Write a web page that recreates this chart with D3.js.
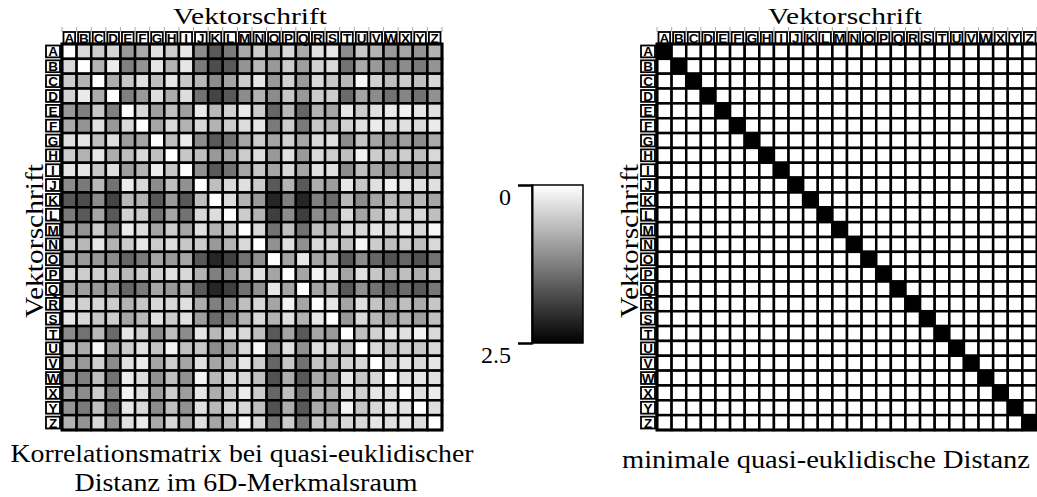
<!DOCTYPE html>
<html>
<head>
<meta charset="utf-8">
<script src="https://cdn.jsdelivr.net/npm/d3@7/dist/d3.min.js"></script>
<style>
  html, body { margin: 0; padding: 0; background: #fff; }
  svg { display: block; }
</style>
</head>
<body>
<svg id="chart" width="1037" height="497"></svg>
<script>
// ---------------- data ----------------
const letters = ["A","B","C","D","E","F","G","H","I","J","K","L","M","N","O","P","Q","R","S","T","U","V","W","X","Y","Z"];

// quasi-euclidean distance between letters (rows x columns)
const distance = [
  [0,0.38,0.5,0.43,1,0.83,0.3,0.5,0.25,1.13,1.63,1.3,0.83,0.5,0.83,0.38,0.83,0.3,0.25,1.13,0.55,0.75,1,0.88,1.05,0.75],
  [0.38,0,0.75,0.2,1.25,1.05,0.25,0.75,0.25,1.3,1.75,1.63,1.05,0.7,1,0.5,0.95,0.45,0.38,1.38,0.83,1,1.25,1.13,1.3,1.05],
  [0.5,0.75,0,0.8,0.55,0.3,0.63,0.25,0.55,0.7,1.13,0.88,0.5,0.25,1,0.45,1,0.38,0.55,0.7,0.08,0.45,0.63,0.5,0.63,0.38],
  [0.43,0.2,0.8,0,1.25,1,0.33,0.8,0.33,1.38,1.83,1.63,1.13,0.75,1.13,0.55,1,0.5,0.5,1.45,0.88,1.13,1.38,1.2,1.38,1.08],
  [1,1.25,0.55,1.25,0,0.38,0.95,0.63,0.95,0.2,0.7,0.45,0.2,0.5,1.5,0.7,1.5,0.75,0.88,0.25,0.5,0.3,0.2,0.13,0.25,0.3],
  [0.83,1.05,0.3,1,0.38,0,0.88,0.38,0.75,0.38,0.75,0.5,0.33,0.25,1.3,0.5,1.3,0.55,0.7,0.45,0.3,0.2,0.33,0.3,0.38,0.2],
  [0.3,0.25,0.63,0.33,0.95,0.88,0,0.63,0.2,1.13,1.63,1.38,0.88,0.5,0.88,0.45,0.88,0.38,0.3,1.13,0.58,0.88,1.08,0.95,1.13,0.83],
  [0.5,0.75,0.25,0.8,0.63,0.38,0.63,0,0.55,0.63,1,0.88,0.5,0.33,1,0.3,1,0.38,0.5,0.63,0.13,0.5,0.63,0.5,0.63,0.38],
  [0.25,0.25,0.55,0.33,0.95,0.75,0.2,0.55,0,1.08,1.63,1.38,0.88,0.55,0.88,0.38,0.88,0.3,0.3,1.13,0.63,0.88,1.08,0.95,1.08,0.83],
  [1.13,1.3,0.7,1.38,0.2,0.38,1.13,0.63,1.08,0,0.63,0.38,0.3,0.5,1.63,0.75,1.63,0.8,0.95,0.25,0.55,0.3,0.13,0.25,0.3,0.3],
  [1.63,1.75,1.13,1.83,0.7,0.75,1.63,1,1.63,0.63,0,0.33,0.75,1,2.13,1.25,2.13,1.25,1.45,0.7,1.13,0.88,0.7,0.8,0.7,0.88],
  [1.3,1.63,0.88,1.63,0.45,0.5,1.38,0.88,1.38,0.38,0.33,0,0.5,0.75,1.88,1.13,1.88,1.13,1.25,0.38,0.88,0.63,0.38,0.5,0.38,0.63],
  [0.83,1.05,0.5,1.13,0.2,0.33,0.88,0.5,0.88,0.3,0.75,0.5,0,0.38,1.38,0.63,1.38,0.63,0.75,0.38,0.38,0.25,0.38,0.2,0.38,0.08],
  [0.5,0.7,0.25,0.75,0.5,0.25,0.5,0.33,0.55,0.5,1,0.75,0.38,0,1.08,0.3,1.08,0.38,0.38,0.63,0.08,0.5,0.63,0.5,0.63,0.38],
  [0.83,1,1,1.13,1.5,1.3,0.88,1,0.88,1.63,2.13,1.88,1.38,1.08,0,0.88,0.25,0.88,0.75,1.63,1.13,1.5,1.7,1.5,1.7,1.38],
  [0.38,0.5,0.45,0.55,0.7,0.5,0.45,0.3,0.38,0.75,1.25,1.13,0.63,0.3,0.88,0,0.88,0.13,0.3,0.88,0.3,0.55,0.8,0.63,0.8,0.5],
  [0.83,0.95,1,1,1.5,1.3,0.88,1,0.88,1.63,2.13,1.88,1.38,1.08,0.25,0.88,0,0.88,0.75,1.63,1.08,1.38,1.63,1.45,1.63,1.33],
  [0.3,0.45,0.38,0.5,0.75,0.55,0.38,0.38,0.3,0.8,1.25,1.13,0.63,0.38,0.88,0.13,0.88,0,0.25,0.88,0.3,0.58,0.83,0.63,0.83,0.55],
  [0.25,0.38,0.55,0.5,0.88,0.7,0.3,0.5,0.3,0.95,1.45,1.25,0.75,0.38,0.75,0.3,0.75,0.25,0,1,0.38,0.7,0.95,0.75,0.95,0.63],
  [1.13,1.38,0.7,1.45,0.25,0.45,1.13,0.63,1.13,0.25,0.7,0.38,0.38,0.63,1.63,0.88,1.63,0.88,1,0,0.63,0.45,0.25,0.3,0.13,0.38],
  [0.55,0.83,0.08,0.88,0.5,0.3,0.58,0.13,0.63,0.55,1.13,0.88,0.38,0.08,1.13,0.3,1.08,0.3,0.38,0.63,0,0.38,0.55,0.45,0.55,0.38],
  [0.75,1,0.45,1.13,0.3,0.2,0.88,0.5,0.88,0.3,0.88,0.63,0.25,0.5,1.5,0.55,1.38,0.58,0.7,0.45,0.38,0,0.38,0.25,0.38,0.25],
  [1,1.25,0.63,1.38,0.2,0.33,1.08,0.63,1.08,0.13,0.7,0.38,0.38,0.63,1.7,0.8,1.63,0.83,0.95,0.25,0.55,0.38,0,0.3,0.25,0.3],
  [0.88,1.13,0.5,1.2,0.13,0.3,0.95,0.5,0.95,0.25,0.8,0.5,0.2,0.5,1.5,0.63,1.45,0.63,0.75,0.3,0.45,0.25,0.3,0,0.3,0.2],
  [1.05,1.3,0.63,1.38,0.25,0.38,1.13,0.63,1.08,0.3,0.7,0.38,0.38,0.63,1.7,0.8,1.63,0.83,0.95,0.13,0.55,0.38,0.25,0.3,0,0.33],
  [0.75,1.05,0.38,1.08,0.3,0.2,0.83,0.38,0.83,0.3,0.88,0.63,0.08,0.38,1.38,0.5,1.33,0.55,0.63,0.38,0.38,0.25,0.3,0.2,0.33,0]
];

// letter with minimal distance for each row letter
const minMatch = ["A","B","C","D","E","F","G","H","I","J","K","L","M","N","O","P","Q","R","S","T","U","V","W","X","Y","Z"];

const colorDomain = [0, 2.5];
const colorbarTicks = [0, 2.5];

const axisTitle = "Vektorschrift";
const captionLeft = ["Korrelationsmatrix bei quasi-euklidischer", "Distanz im 6D-Merkmalsraum"];
const captionRight = "minimale quasi-euklidische Distanz";

// ---------------- drawing ----------------
const svg = d3.select("#chart");
const serif = "'Liberation Serif', 'DejaVu Serif', serif";
const sans = "'Liberation Sans', Arial, sans-serif";

const color = d3.scaleLinear().domain(colorDomain).range(["#ffffff", "#000000"]).clamp(true);

function drawMatrix(x0, valueFn) {
  const x = d3.scaleBand().domain(letters).range([x0 + 62, x0 + 442]);
  const y = d3.scaleBand().domain(letters).range([44, 430]);
  const g = svg.append("g");

  // faint tick lines above header
  g.selectAll("line.tk").data(letters.concat(["_end"])).join("line")
    .attr("x1", (d, i) => x.range()[0] + i * x.bandwidth())
    .attr("x2", (d, i) => x.range()[0] + i * x.bandwidth())
    .attr("y1", 27).attr("y2", 32)
    .attr("stroke", "#aaa").attr("stroke-width", 1);

  const cells = [];
  letters.forEach((r, i) => letters.forEach((c, j) => cells.push({ r, c, i, j })));

  g.selectAll("rect.cell").data(cells).join("rect")
    .attr("class", "cell")
    .attr("x", d => x(d.c)).attr("y", d => y(d.r))
    .attr("width", x.bandwidth()).attr("height", y.bandwidth())
    .attr("fill", d => valueFn(d))
    .attr("stroke", "#000").attr("stroke-width", 2.5);

  // column header boxes
  g.selectAll("rect.ch").data(letters).join("rect")
    .attr("x", d => x(d) + 1.5).attr("y", 32)
    .attr("width", x.bandwidth() - 3).attr("height", 11.5)
    .attr("fill", "#fff").attr("stroke", "#000").attr("stroke-width", 1.8);
  g.selectAll("text.ch").data(letters).join("text")
    .attr("x", d => x(d) + x.bandwidth() / 2).attr("y", 42.5)
    .attr("text-anchor", "middle")
    .attr("font-family", sans).attr("font-weight", "bold").attr("font-size", 13.5)
    .text(d => d);

  // row header boxes
  g.selectAll("rect.rh").data(letters).join("rect")
    .attr("x", x0 + 46).attr("y", d => y(d) + 1.5)
    .attr("width", 14).attr("height", y.bandwidth() - 3)
    .attr("fill", "#fff").attr("stroke", "#000").attr("stroke-width", 1.8);
  g.selectAll("text.rh").data(letters).join("text")
    .attr("x", x0 + 53).attr("y", d => y(d) + y.bandwidth() / 2 + 5)
    .attr("text-anchor", "middle")
    .attr("font-family", sans).attr("font-weight", "bold").attr("font-size", 13.5)
    .text(d => d);

  // outer frame
  g.append("rect")
    .attr("x", x.range()[0]).attr("y", y.range()[0])
    .attr("width", x.range()[1] - x.range()[0]).attr("height", y.range()[1] - y.range()[0])
    .attr("fill", "none").attr("stroke", "#000").attr("stroke-width", 2.8);

  // titles
  const cx = (x.range()[0] + x.range()[1]) / 2;
  g.append("text")
    .attr("x", cx - 2).attr("y", 24)
    .attr("text-anchor", "middle").attr("font-family", serif).attr("font-size", 23)
    .attr("textLength", 154).attr("lengthAdjust", "spacingAndGlyphs")
    .text(axisTitle);
  g.append("text")
    .attr("transform", `translate(${x0 + 43},${(y.range()[0] + y.range()[1]) / 2 + 4}) rotate(-90)`)
    .attr("text-anchor", "middle").attr("font-family", serif).attr("font-size", 25)
    .attr("textLength", 154).attr("lengthAdjust", "spacingAndGlyphs")
    .text(axisTitle);
}

// left: correlation matrix
drawMatrix(0, d => color(distance[d.i][d.j]));
// right: minimal distance
drawMatrix(595, d => (minMatch[d.i] === d.c ? "#000" : "#fff"));

// colorbar
const cbScale = d3.scaleLinear().domain(colorDomain).range([185, 343]);
const defs = svg.append("defs");
const grad = defs.append("linearGradient").attr("id", "cbgrad")
  .attr("x1", 0).attr("y1", 0).attr("x2", 0).attr("y2", 1);
d3.range(0, 1.0001, 0.1).forEach(t => {
  const v = colorDomain[0] + t * (colorDomain[1] - colorDomain[0]);
  grad.append("stop").attr("offset", t).attr("stop-color", color(v));
});
svg.append("rect")
  .attr("x", 532).attr("y", cbScale(colorDomain[0]))
  .attr("width", 51).attr("height", cbScale(colorDomain[1]) - cbScale(colorDomain[0]))
  .attr("fill", "url(#cbgrad)").attr("stroke", "#000").attr("stroke-width", 1.5);

const cbAxis = svg.append("g").attr("transform", "translate(532,0)")
  .call(d3.axisLeft(cbScale).tickValues(colorbarTicks).tickSize(14).tickFormat(d => String(d)));
cbAxis.select(".domain").attr("stroke", "#000").attr("stroke-width", 2);
cbAxis.selectAll(".tick line").attr("stroke", "#000").attr("stroke-width", 2);
cbAxis.selectAll(".tick text")
  .attr("x", -21).attr("dy", 19)
  .attr("font-family", serif).attr("font-size", 24).attr("fill", "#000");

// captions
svg.append("text").attr("x", 242).attr("y", 462)
  .attr("text-anchor", "middle").attr("font-family", serif).attr("font-size", 25)
  .attr("textLength", 463).attr("lengthAdjust", "spacingAndGlyphs")
  .text(captionLeft[0]);
svg.append("text").attr("x", 246).attr("y", 491)
  .attr("text-anchor", "middle").attr("font-family", serif).attr("font-size", 25)
  .attr("textLength", 343).attr("lengthAdjust", "spacingAndGlyphs")
  .text(captionLeft[1]);
svg.append("text").attr("x", 826).attr("y", 468)
  .attr("text-anchor", "middle").attr("font-family", serif).attr("font-size", 25)
  .attr("textLength", 408).attr("lengthAdjust", "spacingAndGlyphs")
  .text(captionRight);
</script>
</body>
</html>
